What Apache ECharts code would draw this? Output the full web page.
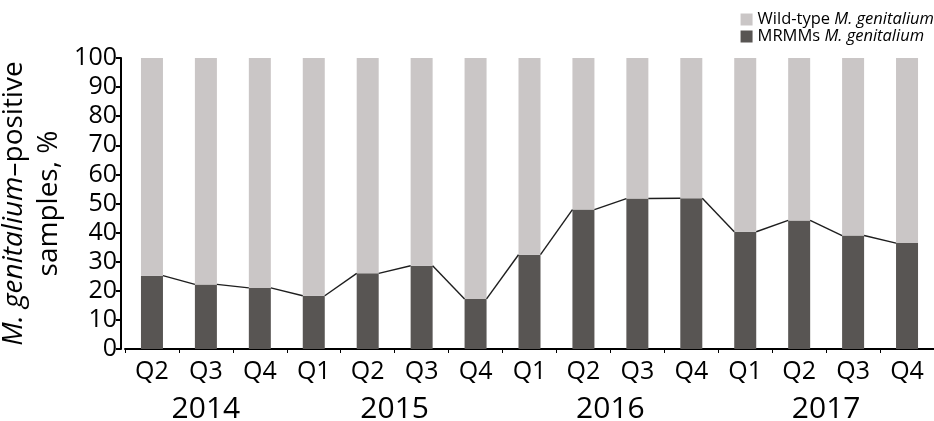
<!DOCTYPE html>
<html>
<head>
<meta charset="utf-8">
<script src="https://cdn.jsdelivr.net/npm/echarts@6/dist/echarts.min.js"></script>
<style>
  html, body { margin: 0; padding: 0; background: #fff; }
  #chart-container { width: 934px; height: 421px; }
</style>
</head>
<body>
<div id="chart-container"></div>
<script>
// quarters, 2014 Q2 .. 2017 Q4
var quarters = ['Q2','Q3','Q4','Q1','Q2','Q3','Q4','Q1','Q2','Q3','Q4','Q1','Q2','Q3','Q4'];
var years = ['2014', '2015', '2016', '2017'];
var quartersPerYear = [3, 4, 4, 4];
// % of M. genitalium-positive samples with macrolide resistance mutations
var mrmms = [25.2, 22.2, 21.0, 18.3, 26.0, 28.6, 17.2, 32.4, 47.9, 51.7, 51.8, 40.3, 44.2, 39.0, 36.4];
var wildType = mrmms.map(function (v) { return +(100 - v).toFixed(1); });
var yTicks = [0, 10, 20, 30, 40, 50, 60, 70, 80, 90, 100];

var FONT = 'Open Sans';

// year label position = middle of its quarters
var yearPos = [];
var start = 0;
quartersPerYear.forEach(function (n) {
  yearPos.push(start + (n - 1) / 2);
  start += n;
});

// segments joining bar top corners
var segs = [];
for (var i = 0; i < mrmms.length - 1; i++) {
  segs.push([i, mrmms[i], mrmms[i + 1]]);
}

var BAR_W = 22;

var myChart = echarts.init(document.getElementById('chart-container'));

var option = {
  animation: false,
  textStyle: { fontFamily: FONT, color: '#000' },
  grid: { left: 125, right: 0, top: 58, bottom: 72, outerBoundsMode: 'none', containLabel: false },
  legend: {
    data: ['Wild-type M. genitalium', 'MRMMs M. genitalium'],
    orient: 'vertical',
    right: 0,
    top: 11,
    padding: 0,
    icon: 'rect',
    itemWidth: 12,
    itemHeight: 12,
    itemGap: 0,
    formatter: function (name) {
      return '{n|' + name.replace('M. genitalium', '') + '}{i|M. genitalium}';
    },
    textStyle: {
      rich: {
        n: { fontFamily: FONT, fontSize: 16.5, color: '#000', lineHeight: 16 },
        i: { fontFamily: FONT, fontSize: 16.5, fontStyle: 'italic', color: '#000', lineHeight: 16 }
      }
    }
  },
  xAxis: [
    {
      type: 'category',
      data: quarters,
      axisLine: { lineStyle: { color: '#000', width: 2 } },
      axisTick: { show: true, length: 4, lineStyle: { color: '#000', width: 1 } },
      axisLabel: { color: '#000', fontSize: 25, margin: 10, fontFamily: FONT, interval: 0 }
    },
    {
      type: 'value',
      position: 'bottom',
      min: -0.5,
      max: quarters.length - 0.5,
      interval: 0.5,
      splitLine: { show: false },
      axisLine: { show: false },
      axisTick: { show: false },
      axisLabel: {
        color: '#000',
        fontSize: 30,
        margin: 45,
        fontFamily: FONT,
        formatter: function (v) {
          var k = yearPos.indexOf(v);
          return k >= 0 ? years[k] : '';
        }
      }
    }
  ],
  yAxis: {
    type: 'value',
    min: 0,
    max: 100,
    interval: 10,
    offset: 4,
    name: '{i|M. genitalium}{n|–positive}\n{n|samples, %}',
    nameLocation: 'middle',
    nameGap: 45,
    nameTextStyle: {
      rich: {
        n: { fontFamily: FONT, fontSize: 28, color: '#000', lineHeight: 35 },
        i: { fontFamily: FONT, fontSize: 28, fontStyle: 'italic', color: '#000', lineHeight: 35 }
      }
    },
    splitLine: { show: false },
    axisLine: { show: true, onZero: false, lineStyle: { color: '#000', width: 2 } },
    axisTick: { show: true, length: 5, lineStyle: { color: '#000', width: 2 } },
    axisLabel: {
      color: '#000',
      fontSize: 25,
      margin: 4,
      fontFamily: FONT,
      formatter: function (v) { return yTicks.indexOf(v) >= 0 ? String(v) : ''; }
    }
  },
  series: [
    {
      name: 'MRMMs M. genitalium',
      type: 'bar',
      stack: 'total',
      barWidth: BAR_W,
      itemStyle: { color: '#585553' },
      data: mrmms
    },
    {
      name: 'Wild-type M. genitalium',
      type: 'bar',
      stack: 'total',
      barWidth: BAR_W,
      itemStyle: { color: '#cac6c6' },
      data: wildType
    },
    {
      name: 'trend',
      type: 'custom',
      silent: true,
      z: 5,
      data: segs,
      renderItem: function (params, api) {
        var idx = api.value(0);
        var p0 = api.coord([idx, api.value(1)]);
        var p1 = api.coord([idx + 1, api.value(2)]);
        return {
          type: 'line',
          shape: { x1: p0[0] + BAR_W / 2, y1: p0[1], x2: p1[0] - BAR_W / 2, y2: p1[1] },
          style: { stroke: '#1e1e1e', lineWidth: 1.4 }
        };
      }
    }
  ]
};

myChart.setOption(option);
</script>
</body>
</html>
